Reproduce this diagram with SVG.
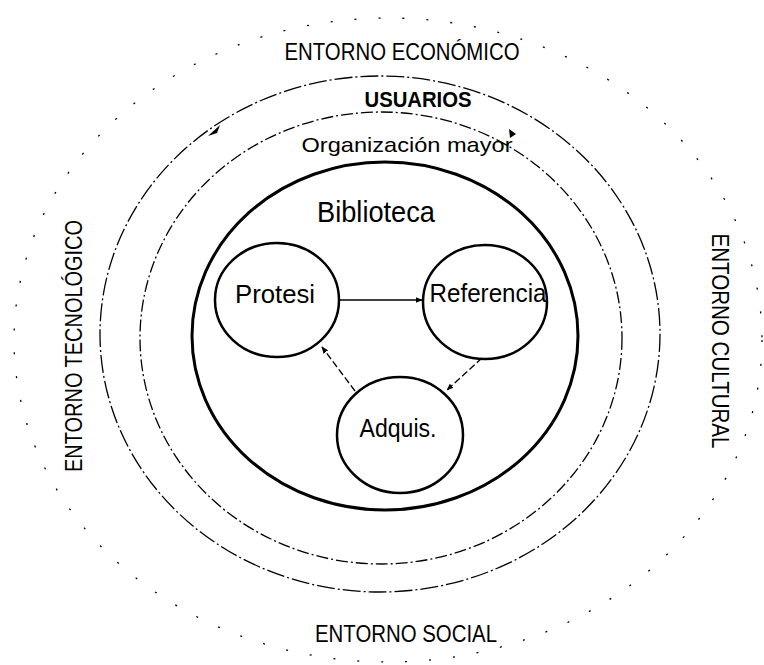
<svg xmlns="http://www.w3.org/2000/svg" width="764" height="665" viewBox="0 0 764 665">
<defs>
<marker id="ah" viewBox="0 0 10 10" refX="9" refY="5" markerWidth="7" markerHeight="7" orient="auto" markerUnits="userSpaceOnUse">
<path d="M0,1 L10,5 L0,9 Z" fill="#000"/>
</marker>
<style>
.lbl{font-family:"Liberation Sans",Arial,sans-serif;fill:#000;text-anchor:middle}
.ring{fill:none;stroke:#000;stroke-width:1.3}
.node{fill:#fff;stroke:#000;stroke-width:2.5}
.edge{fill:none;stroke:#000;stroke-width:1.3}
</style>
</defs>
<rect width="764" height="665" fill="#fff"/>
<g id="entorno">
<ellipse class="ring" cx="388" cy="340" rx="374" ry="322" stroke-dasharray="2 22" stroke-width="1.6"/>
<text class="lbl" x="402" y="60" font-size="23" textLength="235" lengthAdjust="spacingAndGlyphs">ENTORNO ECONÓMICO</text>
<text class="lbl" transform="translate(82,346) rotate(-90)" x="0" y="0" font-size="24" textLength="252" lengthAdjust="spacingAndGlyphs">ENTORNO TECNOLÓGICO</text>
<text class="lbl" transform="translate(712,341) rotate(90)" x="0" y="0" font-size="23" textLength="215" lengthAdjust="spacingAndGlyphs">ENTORNO CULTURAL</text>
<text class="lbl" x="406" y="642" font-size="23" textLength="182" lengthAdjust="spacingAndGlyphs">ENTORNO SOCIAL</text>
</g>
<g id="usuarios">
<ellipse class="ring" cx="380" cy="334" rx="280" ry="258" stroke-dasharray="18 3 2 3"/>
<path d="M208,136 L220,125 L217,133 Z" fill="#000"/>
<text class="lbl" x="418" y="107" font-size="22" font-weight="bold" textLength="107" lengthAdjust="spacingAndGlyphs">USUARIOS</text>
</g>
<g id="organizacion">
<ellipse class="ring" cx="381" cy="338" rx="241" ry="226" stroke-dasharray="12 3 2 3"/>
<path d="M509,129 L516,134 L510,138 Z" fill="#000"/>
<text class="lbl" x="407" y="152" font-size="21" textLength="211" lengthAdjust="spacingAndGlyphs">Organización mayor</text>
</g>
<g id="biblioteca">
<ellipse cx="385" cy="336" rx="193" ry="174" fill="none" stroke="#000" stroke-width="3"/>
<text class="lbl" x="376" y="222" font-size="29" textLength="118" lengthAdjust="spacingAndGlyphs">Biblioteca</text>
</g>
<g id="connectors">
<line class="edge" x1="340" y1="300" x2="422" y2="300" marker-end="url(#ah)"/>
<line class="edge" x1="482" y1="358" x2="447" y2="390" stroke-dasharray="7 3" marker-end="url(#ah)"/>
<line class="edge" x1="355" y1="391" x2="322" y2="347" stroke-dasharray="7 3" marker-end="url(#ah)"/>
</g>
<g id="protesi">
<ellipse class="node" cx="277" cy="300" rx="62" ry="57" fill="none"/>
<text class="lbl" x="275" y="303" font-size="26" textLength="80" lengthAdjust="spacingAndGlyphs">Protesi</text>
</g>
<g id="referencia">
<ellipse class="node" cx="485" cy="302" rx="62" ry="57" fill="none"/>
<text class="lbl" x="488" y="302" font-size="26" textLength="117" lengthAdjust="spacingAndGlyphs">Referencia</text>
</g>
<g id="adquis">
<ellipse class="node" cx="400" cy="435" rx="63" ry="58" fill="none"/>
<text class="lbl" x="398" y="437" font-size="26" textLength="77" lengthAdjust="spacingAndGlyphs">Adquis.</text>
</g>
</svg>
